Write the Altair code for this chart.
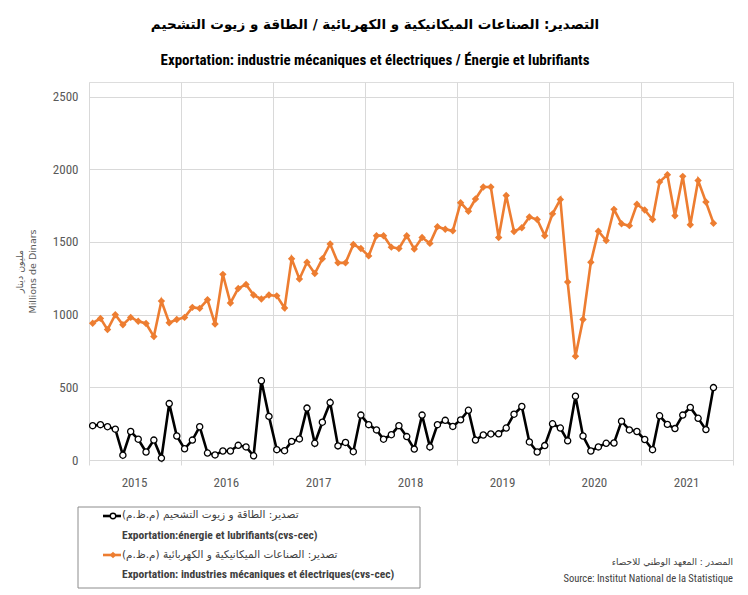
import altair as alt
import pandas as pd

# ---- data ----
start_year = 2015
n_months = 82  # Jan 2015 .. Oct 2021
months = [f"{start_year + i // 12}-{i % 12 + 1:02d}-15T12:00:00" for i in range(n_months)]

energie = [236, 243, 229, 212, 33, 196, 143, 55, 137, 13, 388, 165,
           77, 137, 229, 48, 35, 62, 62, 101, 90, 29, 545, 300,
           71, 64, 128, 145, 357, 115, 260, 395, 97, 121, 57, 309,
           243, 207, 143, 174, 236, 161, 75, 309, 90, 243, 273, 231,
           276, 342, 137, 172, 179, 180, 220, 315, 368, 124, 55, 99,
           249, 220, 132, 439, 165, 62, 90, 115, 117, 267, 207, 196,
           141, 71, 304, 245, 216, 309, 362, 287, 209, 498]

industries = [941, 974, 897, 999, 930, 981, 954, 939, 849, 1093, 944, 966,
              981, 1050, 1043, 1102, 935, 1277, 1080, 1180, 1208, 1135, 1107, 1135,
              1129, 1045, 1384, 1245, 1360, 1283, 1384, 1486, 1356, 1356, 1482, 1455,
              1404, 1543, 1543, 1464, 1455, 1543, 1451, 1530, 1490, 1605, 1587, 1576,
              1770, 1711, 1795, 1878, 1878, 1530, 1819, 1572, 1598, 1671, 1654, 1543,
              1693, 1792, 1224, 714, 966, 1360, 1574, 1510, 1724, 1625, 1612, 1759,
              1720, 1654, 1913, 1962, 1680, 1951, 1618, 1923, 1775, 1629]

y_ticks = [0, 500, 1000, 1500, 2000, 2500]
year_ticks = list(range(2015, 2023))

title_ar = "التصدير: الصناعات الميكانيكية و الكهربائية /  الطاقة و زيوت التشحيم"
title_fr = "Exportation: industrie mécaniques et électriques / Énergie et lubrifiants"
ytitle = ["مليون دينار", "Millions de Dinars"]
leg_ar_1 = "\u200fتصدير: الطاقة و زيوت التشحيم (م.ظ.م)\u200f"
leg_fr_1 = "Exportation:énergie et lubrifiants(cvs-cec)"
leg_ar_2 = "\u200fتصدير: الصناعات الميكانيكية و الكهربائية (م.ظ.م)\u200f"
leg_fr_2 = "Exportation: industries mécaniques et électriques(cvs-cec)"
src_ar = "\u200fالمصدر : المعهد الوطني للاحصاء\u200f"
src_fr = "Source: Institut National de la Statistique"

ORANGE = "#ED7D31"
GRID = "#d9d9d9"
LABEL = "#595959"
NARROW = "Liberation Sans Narrow, Roboto Condensed, Roboto, sans-serif"
AR = "DejaVu Sans"

df_e = pd.DataFrame({"date": months, "value": energie})
df_i = pd.DataFrame({"date": months, "value": industries})

W, H = 644, 378

x_enc = alt.X(
    "date:T",
    scale=alt.Scale(domain=[alt.DateTime(year=2015, month=1, date=1),
                            alt.DateTime(year=2022, month=1, date=1)]),
    axis=alt.Axis(
        values=[alt.DateTime(year=y, month=1, date=1) for y in year_ticks],
        format="%Y",
        labelExpr="year(datum.value) >= 2022 ? '' : timeFormat(datum.value, '%Y')",
        labelOffset=45,
        labelFlush=False,
        labelOverlap=False,
        labelPadding=11,
        labelFont=NARROW, labelFontSize=13, labelColor=LABEL,
        grid=True, gridColor=GRID, gridWidth=1,
        ticks=True, tickSize=5, tickColor=GRID,
        domain=False, title=None,
    ),
)
y_enc = alt.Y(
    "value:Q",
    scale=alt.Scale(domain=[0, 2500]),
    axis=alt.Axis(
        values=y_ticks, format="d",
        labelPadding=11, labelFont=NARROW, labelFontSize=13, labelColor=LABEL,
        grid=True, gridColor=GRID, gridWidth=1,
        ticks=False, domain=False,
        title=ytitle, titleFont=AR, titleFontSize=9.5, titleFontWeight="normal",
        titleColor=LABEL, titleAngle=270, titleX=-70, titleY=H / 2,
        titleAlign="center", titleBaseline="middle", titleLineHeight=13,
    ),
)

ind_line = alt.Chart(df_i).mark_line(color=ORANGE, strokeWidth=2.6).encode(x=x_enc, y=y_enc)
ind_pts = alt.Chart(df_i).mark_point(shape="diamond", filled=True, color=ORANGE, size=55, opacity=1).encode(x="date:T", y="value:Q")
en_line = alt.Chart(df_e).mark_line(color="black", strokeWidth=2.6).encode(x="date:T", y="value:Q")
en_pts = alt.Chart(df_e).mark_point(shape="circle", filled=True, fill="white", stroke="black",
                                    strokeWidth=1.3, size=38, opacity=1).encode(x="date:T", y="value:Q")

one = alt.Data(values=[{"k": 1}])
OX, OY = 89, 82  # plot origin on the page (for annotations only)


def txt(s, px, py, font, size, weight="normal", align="left", color="#404040"):
    return alt.Chart(one).mark_text(
        text=s, font=font, fontSize=size, fontWeight=weight, align=align,
        baseline="middle", color=color,
    ).encode(x=alt.value(px - OX), y=alt.value(py - OY))


legend_box = alt.Chart(one).mark_rect(fill="white", stroke="#8c8c8c", strokeWidth=1).encode(
    x=alt.value(78 - OX), x2=alt.value(420 - OX), y=alt.value(507 - OY), y2=alt.value(588 - OY))
sym1 = alt.Chart(one).mark_rule(color="black", strokeWidth=2.6).encode(
    x=alt.value(103 - OX), x2=alt.value(121 - OX), y=alt.value(516 - OY))
sym1p = alt.Chart(one).mark_point(shape="circle", filled=True, fill="white", stroke="black",
                                  strokeWidth=1.3, size=30, opacity=1).encode(
    x=alt.value(113 - OX), y=alt.value(516 - OY))
sym2 = alt.Chart(one).mark_rule(color=ORANGE, strokeWidth=2.6).encode(
    x=alt.value(103 - OX), x2=alt.value(121 - OX), y=alt.value(555 - OY))
sym2p = alt.Chart(one).mark_point(shape="diamond", filled=True, color=ORANGE, size=45, opacity=1).encode(
    x=alt.value(113 - OX), y=alt.value(555 - OY))

annotations = [
    legend_box, sym1, sym1p, sym2, sym2p,
    txt(leg_ar_1, 122, 515, AR, 10.5),
    txt(leg_fr_1, 122, 536, NARROW, 11.5, "bold"),
    txt(leg_ar_2, 122, 555, AR, 10.5),
    txt(leg_fr_2, 122, 575, NARROW, 11.5, "bold"),
    txt(src_ar, 733, 562, AR, 9, align="right"),
    txt(src_fr, 733, 579, NARROW, 10.5, align="right"),
]

chart = alt.layer(ind_line, ind_pts, en_line, en_pts, *annotations).properties(
    width=W, height=H,
    autosize=alt.AutoSizeParams(type="none"),
    padding={"left": 81, "top": 74, "right": 7, "bottom": 130},
    title=alt.TitleParams(
        text=title_ar, subtitle=title_fr, anchor="middle", dx=-36,
        font=AR, fontSize=13.5, fontWeight="bold", color="black",
        subtitleFont=NARROW, subtitleFontSize=15, subtitleFontWeight="bold",
        subtitleColor="black", subtitlePadding=22, offset=14,
    ),
).configure_view(stroke=None).configure(background="white")

chart.save("out.html", embed_options={"renderer": "svg", "actions": False})
